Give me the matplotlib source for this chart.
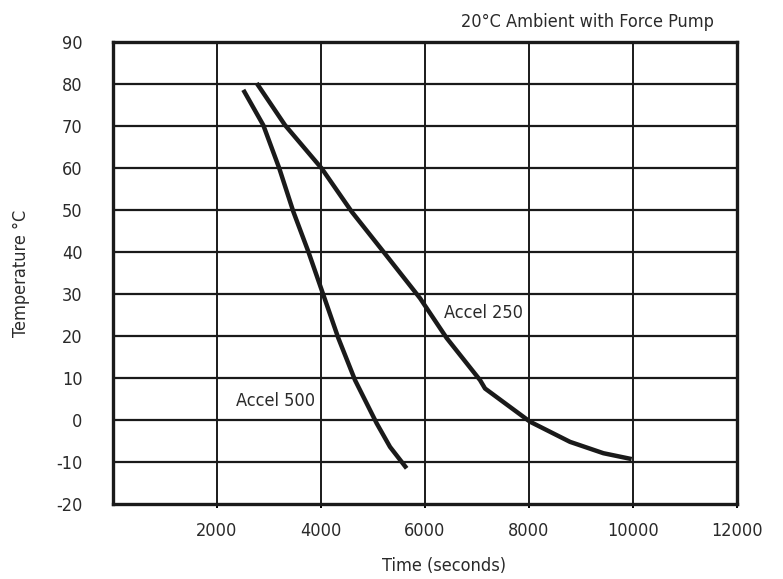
import matplotlib
matplotlib.use('Agg')
import matplotlib.pyplot as plt

plt.rcParams['font.family'] = ['DejaVu Sans']
plt.rcParams['font.stretch'] = 'condensed'

# Accel 500 curve (time s, temperature C)
t500 = [2506, 2890, 3198, 3468, 3756, 4045, 4333, 4654, 5071, 5327, 5647]
T500 = [78.6, 70.2, 59.9, 49.6, 40.1, 29.8, 19.5, 9.5, -0.8, -6.4, -11.5]

# Accel 250 curve
t250 = [2763, 3308, 4013, 4590, 5198, 5904, 6417, 7058, 7154, 8019, 8788, 9429, 9974]
T250 = [80.2, 70.2, 59.9, 49.6, 40.1, 29.0, 19.5, 9.5, 7.5, -0.4, -5.2, -7.9, -9.3]

xticks = [2000, 4000, 6000, 8000, 10000, 12000]
yticks = [-20, -10, 0, 10, 20, 30, 40, 50, 60, 70, 80, 90]

fig = plt.figure(figsize=(7.83, 5.79), dpi=100)
ax = fig.add_axes([0.1443, 0.1295, 0.797, 0.798])

for y in yticks[1:-1]:
    ax.axhline(y, color='#1a1a1a', lw=1.6, zorder=1)
for x in xticks[:-1]:
    ax.axvline(x, color='#1a1a1a', lw=1.4, zorder=1)

ax.plot(t500, T500, color='#1a1a1a', lw=3.2, zorder=3, solid_capstyle='butt', solid_joinstyle='round')
ax.plot(t250, T250, color='#1a1a1a', lw=3.2, zorder=3, solid_capstyle='butt', solid_joinstyle='round')

ax.text(3120, 4.5, 'Accel 500', fontsize=13, ha='center', va='center', color='#2a2a2a')
ax.text(7130, 25.5, 'Accel 250', fontsize=13, ha='center', va='center', color='#2a2a2a')

ax.set_xlim(0, 12000)
ax.set_ylim(-20, 90)
ax.set_xticks(xticks)
ax.set_yticks(yticks)
ax.set_xticklabels([str(v) for v in xticks])
ax.set_yticklabels([str(v) for v in yticks])
ax.tick_params(axis='x', length=3, width=1.4, pad=10, labelsize=13, labelcolor='#2a2a2a')
ax.tick_params(axis='y', length=0, pad=22, labelsize=13, labelcolor='#2a2a2a')
for s in ax.spines.values():
    s.set_linewidth(2.4)
    s.set_color('#1a1a1a')

ax.set_xlabel('Time (seconds)', fontsize=13, color='#2a2a2a')
ax.xaxis.set_label_coords(0.53, -0.115)
ax.set_ylabel('Temperature °C', fontsize=13, color='#2a2a2a')
ax.yaxis.set_label_coords(-0.133, 0.5)
fig.text(0.75, 0.962, '20°C Ambient with Force Pump', fontsize=13, ha='center', va='center', color='#2a2a2a')

fig.savefig('out.png', dpi=100)
